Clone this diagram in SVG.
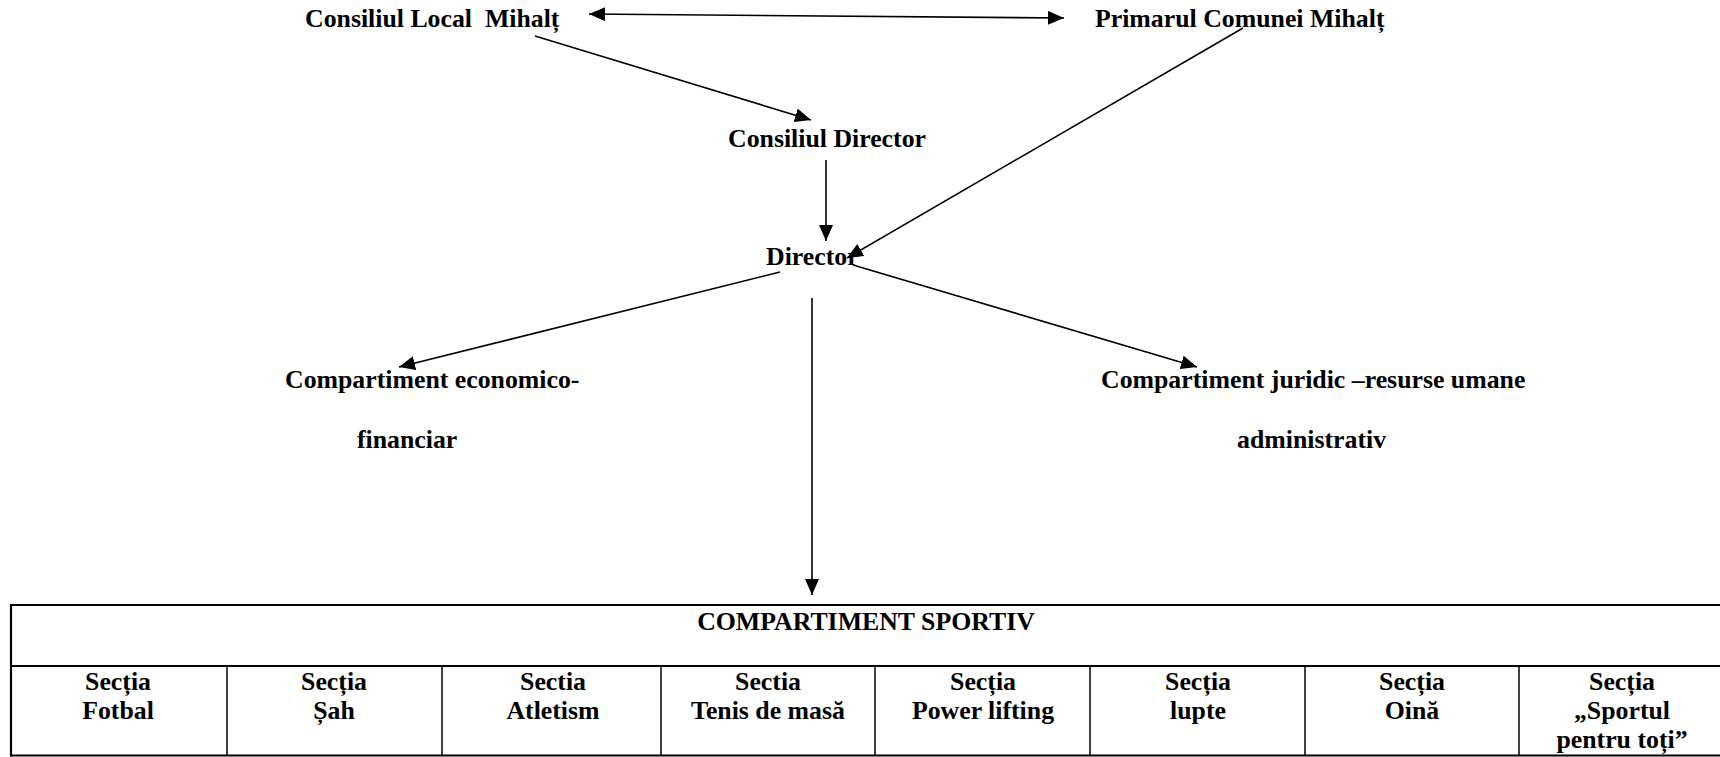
<svg xmlns="http://www.w3.org/2000/svg" width="1720" height="757" viewBox="0 0 1720 757">
<style>
text{font-family:"Liberation Serif","Times New Roman",serif;font-weight:bold;font-size:25.8px;fill:#000}
.c{text-anchor:middle}
.ln{stroke:#000;stroke-width:1.6;fill:none}
.tb{stroke:#000;stroke-width:2.2;fill:none}
.cl{stroke:#000;stroke-width:1.5;fill:none}
</style>
<defs>
<marker id="ah" markerUnits="userSpaceOnUse" markerWidth="17" markerHeight="15" refX="16" refY="7" orient="auto-start-reverse" viewBox="0 0 17 15">
<path d="M0,0 L16,7 L0,14 z" fill="#000"/>
</marker>
</defs>
<rect width="1720" height="757" fill="#fff"/>
<g id="connectors">
<line class="ln" x1="589" y1="14" x2="1064" y2="18" marker-start="url(#ah)" marker-end="url(#ah)"/>
<line class="ln" x1="535" y1="36" x2="811" y2="120" marker-end="url(#ah)"/>
<line class="ln" x1="826" y1="160" x2="826" y2="241" marker-end="url(#ah)"/>
<line class="ln" x1="1243" y1="28" x2="847" y2="258" marker-end="url(#ah)"/>
<line class="ln" x1="780" y1="272" x2="399" y2="367" marker-end="url(#ah)"/>
<line class="ln" x1="853" y1="265" x2="1197" y2="367" marker-end="url(#ah)"/>
<line class="ln" x1="812" y1="298" x2="812" y2="595" marker-end="url(#ah)"/>
</g>
<g id="consiliul-local"><text x="305" y="27" xml:space="preserve">Consiliul Local  Mihalț</text></g>
<g id="primarul"><text x="1095" y="27">Primarul Comunei Mihalț</text></g>
<g id="consiliul-director"><text x="728" y="147">Consiliul Director</text></g>
<g id="director"><text x="766" y="265">Director</text></g>
<g id="comp-economic"><text x="285" y="388">Compartiment economico-</text><text x="357" y="448">financiar</text></g>
<g id="comp-juridic"><text x="1101" y="388">Compartiment juridic –resurse umane</text><text x="1237" y="448">administrativ</text></g>
<g id="comp-sportiv">
<line class="tb" x1="11" y1="605" x2="1720" y2="605"/>
<line class="tb" x1="11" y1="666" x2="1720" y2="666"/>
<line class="tb" x1="11" y1="755.5" x2="1720" y2="755.5"/>
<line class="tb" x1="11" y1="604" x2="11" y2="756.5"/>
<line class="cl" x1="227" y1="666" x2="227" y2="755"/>
<line class="cl" x1="442" y1="666" x2="442" y2="755"/>
<line class="cl" x1="661" y1="666" x2="661" y2="755"/>
<line class="cl" x1="875" y1="666" x2="875" y2="755"/>
<line class="cl" x1="1090" y1="666" x2="1090" y2="755"/>
<line class="cl" x1="1305" y1="666" x2="1305" y2="755"/>
<line class="cl" x1="1519" y1="666" x2="1519" y2="755"/>
<text class="c" x="866" y="630">COMPARTIMENT SPORTIV</text>
<g id="sectia-fotbal"><text class="c" x="118" y="690">Secția</text><text class="c" x="118" y="719">Fotbal</text></g>
<g id="sectia-sah"><text class="c" x="334" y="690">Secția</text><text class="c" x="334" y="719">Șah</text></g>
<g id="sectia-atletism"><text class="c" x="553" y="690">Sectia</text><text class="c" x="553" y="719">Atletism</text></g>
<g id="sectia-tenis"><text class="c" x="768" y="690">Sectia</text><text class="c" x="768" y="719">Tenis de masă</text></g>
<g id="sectia-power"><text class="c" x="983" y="690">Secția</text><text class="c" x="983" y="719">Power lifting</text></g>
<g id="sectia-lupte"><text class="c" x="1198" y="690">Secția</text><text class="c" x="1198" y="719">lupte</text></g>
<g id="sectia-oina"><text class="c" x="1412" y="690">Secția</text><text class="c" x="1412" y="719">Oină</text></g>
<g id="sectia-sportul"><text class="c" x="1622" y="690">Secția</text><text class="c" x="1622" y="719">„Sportul</text><text class="c" x="1622" y="748">pentru toți”</text></g>
</g>
</svg>
